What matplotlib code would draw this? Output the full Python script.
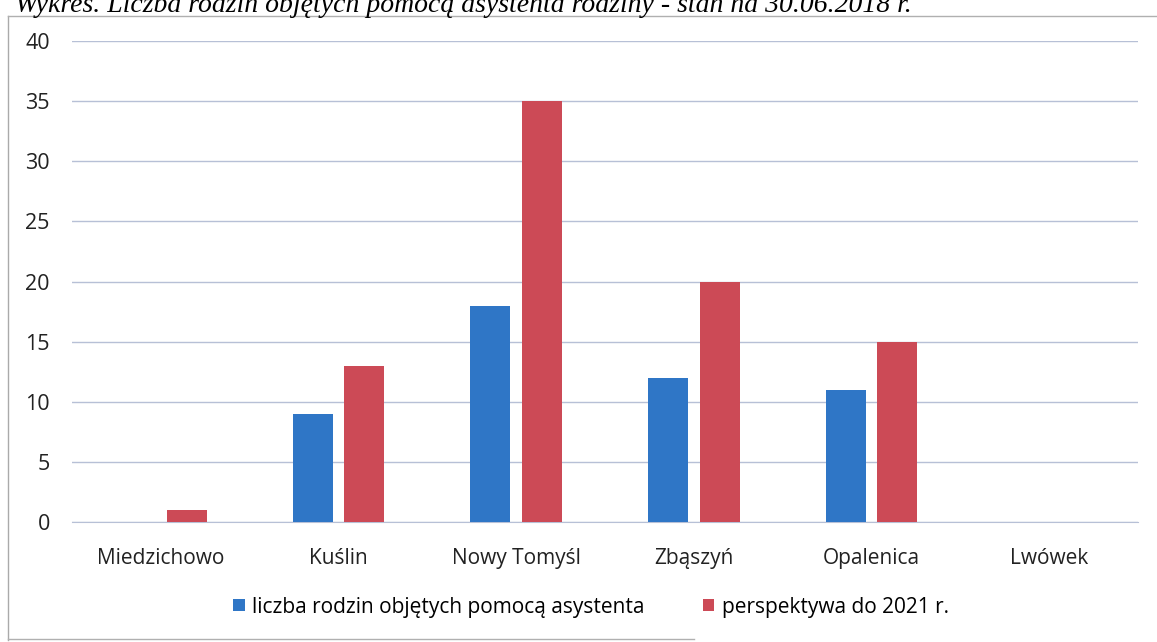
"""Liczba rodzin objętych pomocą asystenta rodziny - wykres słupkowy."""

import numpy as np
import matplotlib
matplotlib.use("Agg")
import matplotlib.pyplot as plt
from matplotlib.lines import Line2D

gminy = ['Miedzichowo', 'Kuślin', 'Nowy Tomyśl', 'Zbąszyń', 'Opalenica', 'Lwówek']
liczba_rodzin = [0, 9, 18, 12, 11, 0]
perspektywa_2021 = [1, 13, 35, 20, 15, 0]
series_labels = ['liczba rodzin objętych pomocą asystenta', 'perspektywa do 2021 r.']
y_ticks = [0, 5, 10, 15, 20, 25, 30, 35, 40]
caption = 'Wykres. Liczba rodzin objętych pomocą asystenta rodziny - stan na 30.06.2018 r.'

BLUE = '#2f76c6'
RED = '#cc4a56'
GRID = '#b7c0d6'

plt.rcParams['font.family'] = ['Open Sans', 'DejaVu Sans']

fig = plt.figure(figsize=(11.57, 6.42), dpi=100)
ax = fig.add_axes([72 / 1157, 1 - 522 / 642, (1138 - 72) / 1157, (522 - 41) / 642])

x = np.arange(len(gminy))
width = 0.225
offset = 0.146
ax.bar(x - offset, liczba_rodzin, width, color=BLUE, label=series_labels[0], zorder=3)
ax.bar(x + offset, perspektywa_2021, width, color=RED, label=series_labels[1], zorder=3)

ax.set_xlim(-0.5, len(gminy) - 0.5)
ax.set_ylim(0, 40)
ax.set_yticks(y_ticks)
ax.set_xticks(x)
ax.set_xticklabels(gminy)
ax.grid(axis='y', color=GRID, linewidth=1.0, zorder=0)
for side in ['top', 'right', 'left']:
    ax.spines[side].set_visible(False)
ax.spines['bottom'].set_color(GRID)
ax.tick_params(axis='x', length=0, labelsize=15, colors='#222222', pad=19)
ax.tick_params(axis='y', length=0, labelsize=15.5, colors='#222222', pad=16)

ax.legend(loc='center', bbox_to_anchor=((591 - 72) / 1066, -(607 - 522) / 481), ncol=2,
          frameon=False, fontsize=15, handlelength=0.55, handleheight=0.55,
          handletextpad=0.35, columnspacing=2.8, borderpad=0)

# caption of the scanned page, cut off at the top edge
fig.text(15 / 1157, 1 - 12 / 642, caption, fontsize=20, family='Liberation Serif',
         style='italic', va='baseline', ha='left')

# frame of the scanned box
fig.add_artist(Line2D([8 / 1157, 8 / 1157], [1 - 16 / 642, 1 - 640 / 642],
                      color='#aaaaaa', linewidth=1.0, transform=fig.transFigure))
fig.add_artist(Line2D([8 / 1157, 1.0], [1 - 16 / 642, 1 - 16 / 642],
                      color='#b0b0b0', linewidth=1.0, transform=fig.transFigure))
fig.add_artist(Line2D([8 / 1157, 0.6], [1 - 639 / 642, 1 - 639 / 642],
                      color='#b0b0b0', linewidth=1.0, transform=fig.transFigure))

fig.savefig('out.png', dpi=100)
